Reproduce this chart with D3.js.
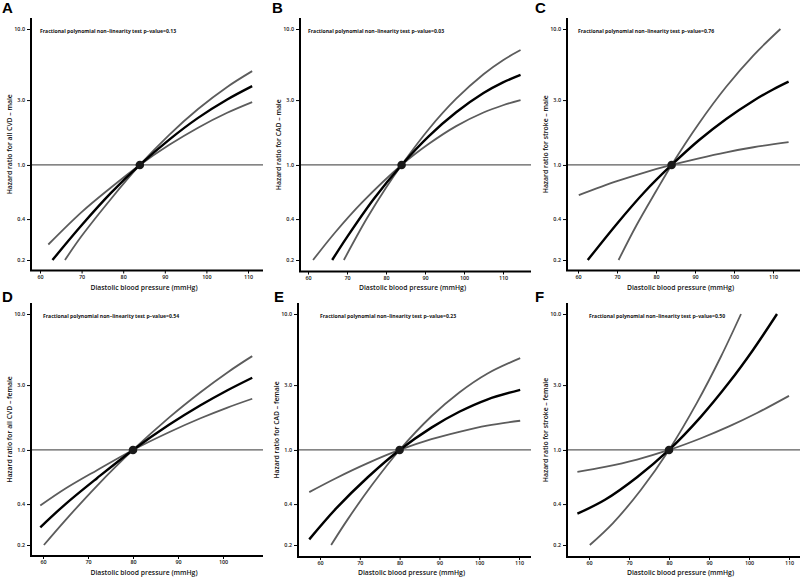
<!DOCTYPE html>
<html>
<head>
<meta charset="utf-8">
<script src="https://cdn.jsdelivr.net/npm/d3@7"></script>
<style>
  html, body { margin: 0; padding: 0; background: #fff; }
  svg { display: block; }
</style>
</head>
<body>
<svg id="chart" width="800" height="578"></svg>
<script>
// ---------------- DATA ----------------
const panelLetters = ["A", "B", "C", "D", "E", "F"];
const yTitles = [
  "Hazard ratio for all CVD \u2013 male",
  "Hazard ratio for CAD \u2013 male",
  "Hazard ratio for stroke \u2013 male",
  "Hazard ratio for all CVD \u2013 female",
  "Hazard ratio for CAD \u2013 female",
  "Hazard ratio for stroke \u2013 female"
];
const xTitle = "Diastolic blood pressure (mmHg)";
const pValues = ["0.13", "0.03", "0.76", "0.54", "0.23", "0.50"];
const refBP = [84, 84, 84, 80, 80, 80];
const yTicks = [0.2, 0.4, 1.0, 3.0, 10.0];
const yTickLabels = ["0.2", "0.4", "1.0", "3.0", "10.0"];
const xTicksFull = [60, 70, 80, 90, 100, 110];
const xTicksShort = [60, 70, 80, 90, 100];

// [diastolic BP, hazard ratio]
const A_fit = [[63,0.20],[70,0.36],[77,0.62],[84,1],[91,1.53],[98,2.22],[105,3.03],[111,3.8]];
const A_ciHigh = [[66,0.20],[70,0.30],[77,0.56],[84,1],[91,1.66],[98,2.58],[105,3.75],[111,4.9]];
const A_ciLow = [[62,0.26],[70,0.45],[77,0.68],[84,1],[91,1.40],[98,1.88],[105,2.42],[111,2.9]];

const B_fit = [[66.2,0.20],[70,0.295],[77,0.57],[84,1],[91,1.63],[98,2.44],[105,3.38],[110,4.05],[114.5,4.6]];
const B_ciHigh = [[69.2,0.20],[75,0.40],[80,0.68],[84,1],[91,1.84],[98,3.07],[105,4.65],[110,5.9],[114.5,7.0]];
const B_ciLow = [[61.3,0.20],[67,0.32],[74,0.535],[84,1],[91,1.43],[98,1.93],[105,2.43],[110,2.75],[114.5,3.0]];

const C_fit = [[62.5,0.20],[70,0.37],[77,0.63],[84,1],[91,1.52],[98,2.18],[105,2.97],[110,3.59],[114,4.1]];
const C_ciHigh = [[70.4,0.20],[75,0.36],[80,0.64],[84,1],[91,2.02],[98,3.76],[105,6.41],[111.9,10]];
const C_ciLow = [[60.2,0.60],[70,0.76],[77,0.88],[84,1],[91,1.12],[98,1.24],[105,1.35],[114,1.47]];

const D_fit = [[59.4,0.27],[65,0.40],[72,0.62],[80,1],[88,1.53],[95,2.13],[101,2.75],[106.5,3.4]];
const D_ciHigh = [[60.2,0.20],[65,0.305],[72,0.545],[80,1],[88,1.73],[95,2.66],[101,3.72],[106.5,4.9]];
const D_ciLow = [[59.4,0.39],[65,0.52],[72,0.71],[80,1],[88,1.35],[95,1.71],[101,2.05],[106.5,2.38]];

const E_fit = [[57.3,0.22],[64,0.37],[72,0.63],[80,1],[88,1.46],[95,1.91],[102,2.35],[110.3,2.77]];
const E_ciHigh = [[62.8,0.20],[67,0.31],[73,0.55],[80,1],[88,1.77],[95,2.65],[102,3.64],[110.3,4.74]];
const E_ciLow = [[57.3,0.49],[64,0.62],[72,0.80],[80,1],[88,1.20],[95,1.36],[102,1.51],[110.3,1.64]];

const F_fit = [[57.1,0.34],[64,0.43],[72,0.63],[80,1],[88,1.76],[95,3.13],[101,5.44],[107,10]];
const F_ciHigh = [[60.2,0.20],[66,0.29],[73,0.51],[80,1],[87,2.23],[93,4.87],[98,10]];
const F_ciLow = [[57.1,0.69],[64,0.75],[72,0.85],[80,1],[88,1.22],[95,1.49],[102,1.87],[110,2.5]];

const fits = [A_fit, B_fit, C_fit, D_fit, E_fit, F_fit];
const ciHighs = [A_ciHigh, B_ciHigh, C_ciHigh, D_ciHigh, E_ciHigh, F_ciHigh];
const ciLows = [A_ciLow, B_ciLow, C_ciLow, D_ciLow, E_ciLow, F_ciLow];
const xTickSets = [xTicksFull, xTicksFull, xTicksFull, xTicksShort, xTicksFull, xTicksFull];

// ---------------- LAYOUT ----------------
const layout = [
  {axX: 31,  right: 263, top: 18,  bottom: 270.5, x60: 40,  x110: 248, y10: 29,  y02: 260, lx: 2,   ly: 13,  ty: 288},
  {axX: 300, right: 531, top: 18,  bottom: 271.5, x60: 308, x110: 503, y10: 29,  y02: 260, lx: 272, ly: 13,  ty: 288},
  {axX: 567, right: 800, top: 18,  bottom: 270.5, x60: 578, x110: 773, y10: 29,  y02: 260, lx: 535, ly: 13,  ty: 288},
  {axX: 31,  right: 263, top: 303, bottom: 556, x60: 43,  x110: 268, y10: 314, y02: 545, lx: 2,   ly: 302, ty: 573},
  {axX: 298, right: 531, top: 303, bottom: 557, x60: 320, x110: 519, y10: 314, y02: 545, lx: 274, ly: 302, ty: 573},
  {axX: 567, right: 800, top: 303, bottom: 557, x60: 589, x110: 789, y10: 314, y02: 545, lx: 535, ly: 302, ty: 573}
];

const svg = d3.select("#chart");
const GRAY = "#5c5c5c";
const FONT = "'Open Sans', 'Liberation Sans', Arial, sans-serif";

panelLetters.forEach((letter, i) => {
  const L = layout[i];
  const x = d3.scaleLinear().domain([60, 110]).range([L.x60, L.x110]);
  const y = d3.scaleLog().domain([0.2, 10]).range([L.y02, L.y10]);
  const g = svg.append("g");

  // reference line at HR = 1
  g.append("line")
    .attr("x1", L.axX).attr("x2", L.right)
    .attr("y1", y(1)).attr("y2", y(1))
    .attr("stroke", GRAY).attr("stroke-width", 1.3);

  const line = d3.line()
    .x(d => x(d[0])).y(d => y(d[1]))
    .curve(d3.curveCatmullRom.alpha(0.5));

  [ciHighs[i], ciLows[i]].forEach(ci => {
    g.append("path").datum(ci)
      .attr("d", line).attr("fill", "none")
      .attr("stroke", GRAY).attr("stroke-width", 1.8);
  });
  g.append("path").datum(fits[i])
    .attr("d", line).attr("fill", "none")
    .attr("stroke", "#000").attr("stroke-width", 2.4);

  g.append("circle")
    .attr("cx", x(refBP[i])).attr("cy", y(1)).attr("r", 4.3)
    .attr("fill", "#1a1a1a");

  // axes (ticks + labels)
  const yAxis = d3.axisLeft(y).tickValues(yTicks)
    .tickFormat((d, k) => yTickLabels[k]).tickSize(4).tickPadding(2);
  const ya = g.append("g").attr("transform", `translate(${L.axX},0)`).call(yAxis);
  ya.select(".domain").remove();
  ya.selectAll("text").attr("font-size", 5.4).attr("font-family", FONT).attr("font-weight", 600).attr("fill", "#111");

  const xAxis = d3.axisBottom(x).tickValues(xTickSets[i]).tickSize(3).tickPadding(1.5);
  const xa = g.append("g").attr("transform", `translate(0,${L.bottom})`).call(xAxis);
  xa.select(".domain").remove();
  xa.selectAll("text").attr("font-size", 5.4).attr("font-family", FONT).attr("font-weight", 600).attr("fill", "#111");

  // L-shaped box
  g.append("path")
    .attr("d", `M${L.axX},${L.top}V${L.bottom}H${L.right}`)
    .attr("fill", "none").attr("stroke", "#000").attr("stroke-width", 2);

  // annotation
  g.append("text")
    .attr("x", x(60)).attr("y", y(10) + 3)
    .attr("dominant-baseline", "middle")
    .attr("font-size", 5.1).attr("font-weight", 700).attr("font-family", FONT)
    .attr("fill", "#111")
    .text(`Fractional polynomial non\u2013linearity test p\u2013value=${pValues[i]}`);

  // axis titles
  g.append("text")
    .attr("x", (L.axX + L.right) / 2 - 3).attr("y", L.ty)
    .attr("text-anchor", "middle").attr("dominant-baseline", "middle")
    .attr("font-size", 6.8).attr("font-weight", 600).attr("font-family", FONT).attr("fill", "#111")
    .text(xTitle);

  const cy = (L.top + L.bottom) / 2;
  g.append("text")
    .attr("transform", `translate(${L.axX - 21},${cy}) rotate(-90)`)
    .attr("text-anchor", "middle").attr("dominant-baseline", "middle")
    .attr("font-size", 6.8).attr("font-weight", 600).attr("font-family", FONT).attr("fill", "#111")
    .text(yTitles[i]);

  // panel letter
  g.append("text")
    .attr("x", L.lx).attr("y", L.ly)
    .attr("font-size", 15).attr("font-weight", 700)
    .attr("font-family", "'Liberation Sans', Arial, sans-serif")
    .attr("fill", "#000")
    .text(letter);
});
</script>
</body>
</html>
